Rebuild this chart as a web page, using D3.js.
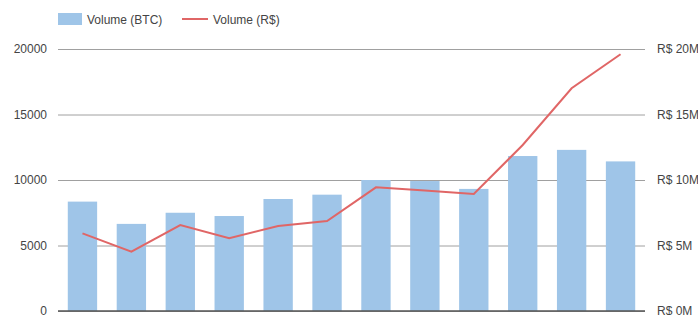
<!DOCTYPE html>
<html>
<head>
<meta charset="utf-8">
<script src="https://cdn.jsdelivr.net/npm/d3@7"></script>
<style>
  body { margin: 0; background: #fff; }
  svg { display: block; font-family: Arial, "Liberation Sans", sans-serif; }
</style>
</head>
<body>
<svg id="chart" width="698" height="315"></svg>
<script>
// data
const periods = ['1', '2', '3', '4', '5', '6', '7', '8', '9', '10', '11', '12'];
const volumeBTC = [8350, 6650, 7500, 7250, 8550, 8880, 10000, 9920, 9320, 11830, 12300, 11420];
const volumeBRL = [5.93, 4.53, 6.56, 5.55, 6.49, 6.87, 9.44, 9.2, 8.93, 12.67, 17.0, 19.6]; // millions
const leftTicks = [0, 5000, 10000, 15000, 20000];
const rightTicks = [0, 5, 10, 15, 20];

const svg = d3.select('#chart');
const plotLeft = 58, plotRight = 645, plotTop = 49, plotBottom = 311;
const gridColor = '#a0a0a0';
const textColor = '#444';
const barColor = '#9fc5e8';
const lineColor = '#e06666';

const x = d3.scaleBand().domain(periods).range([plotLeft, plotRight]).paddingInner(0.4).paddingOuter(0.2);
const yL = d3.scaleLinear().domain([0, 20000]).range([plotBottom, plotTop]);
const yR = d3.scaleLinear().domain([0, 20]).range([plotBottom, plotTop]);

// gridlines + left labels
svg.append('g')
	.attr('transform', 'translate(' + plotLeft + ',0)')
	.call(d3.axisLeft(yL).tickValues(leftTicks).tickSize(-(plotRight - plotLeft)).tickPadding(11).tickFormat(d3.format('d')))
	.call(g => g.select('.domain').remove())
	.call(g => g.selectAll('line').attr('stroke', gridColor).attr('stroke-width', 1))
	.call(g => g.selectAll('text').attr('fill', textColor).attr('font-size', 12).attr('font-family', 'Arial, "Liberation Sans", sans-serif'));

// right labels
svg.append('g')
	.attr('transform', 'translate(' + plotRight + ',0)')
	.call(d3.axisRight(yR).tickValues(rightTicks).tickSize(0).tickPadding(12).tickFormat(d => 'R$ ' + d + 'M'))
	.call(g => g.select('.domain').remove())
	.call(g => g.selectAll('text').attr('fill', textColor).attr('font-size', 12).attr('font-family', 'Arial, "Liberation Sans", sans-serif'));

// bars
svg.append('g')
	.selectAll('rect')
	.data(volumeBTC)
	.join('rect')
		.attr('x', (d, i) => x(periods[i]))
		.attr('y', d => yL(d))
		.attr('width', x.bandwidth())
		.attr('height', d => plotBottom - yL(d))
		.attr('fill', barColor);

// baseline
svg.append('line')
	.attr('x1', plotLeft).attr('x2', plotRight)
	.attr('y1', plotBottom).attr('y2', plotBottom)
	.attr('stroke', '#555').attr('stroke-width', 1.5);

// R$ line
const line = d3.line()
	.x((d, i) => x(periods[i]) + x.bandwidth() / 2)
	.y(d => yR(d));

svg.append('path')
	.datum(volumeBRL)
	.attr('d', line)
	.attr('fill', 'none')
	.attr('stroke', lineColor)
	.attr('stroke-width', 2);

// legend
const legend = svg.append('g').attr('font-size', 12).attr('fill', textColor);
legend.append('rect').attr('x', 58).attr('y', 13).attr('width', 24).attr('height', 12).attr('fill', barColor);
legend.append('text').attr('x', 87).attr('y', 23.5).text('Volume (BTC)');
legend.append('line').attr('x1', 182).attr('x2', 208).attr('y1', 19).attr('y2', 19)
	.attr('stroke', lineColor).attr('stroke-width', 2);
legend.append('text').attr('x', 213).attr('y', 23.5).text('Volume (R$)');
</script>
</body>
</html>
